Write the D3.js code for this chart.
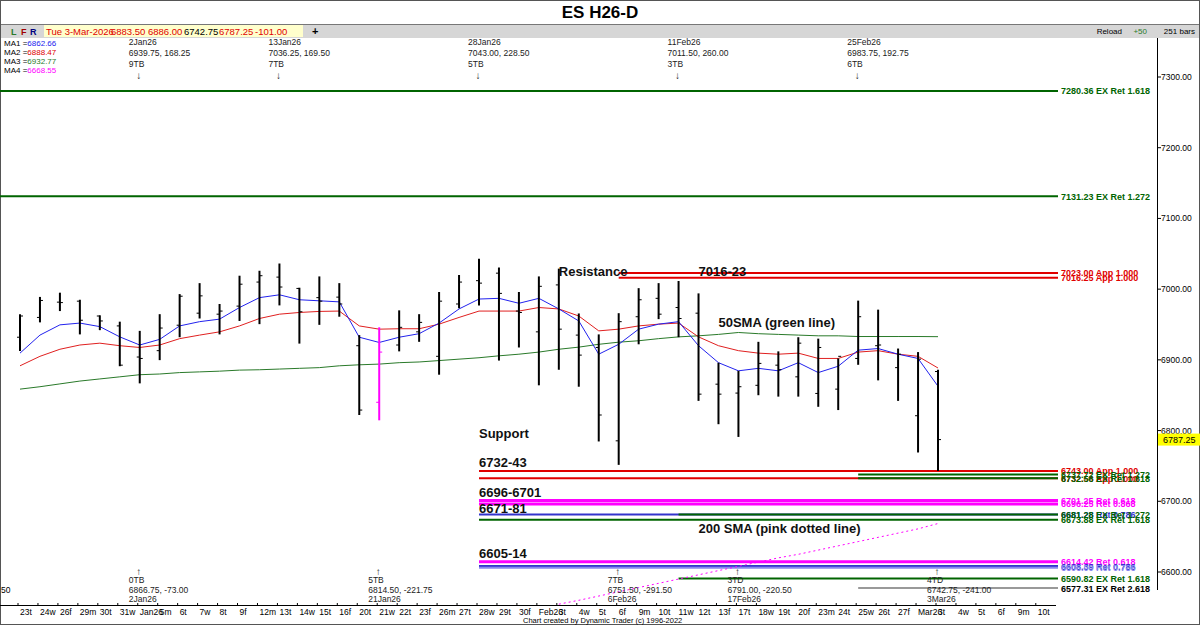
<!DOCTYPE html>
<html><head><meta charset="utf-8">
<script src="https://cdn.jsdelivr.net/npm/d3@7"></script>
<style>body{margin:0;background:#fff}svg{display:block;font-family:"Liberation Sans",Arial,sans-serif}</style>
</head><body><svg id="c" width="1200" height="625"></svg>
<script>
const dates=["23t","24w","26f","29m","30t","31w","Jan26","5m","6t","7w","8t","9f","12m","13t","14w","15t","16f","20t","21w","22t","23f","26m","27t","28w","29t","30f","Feb26","3t","4w","5t","6f","9m","10t","11w","12t","13f","17t","18w","19t","20f","23m","24t","25w","26t","27f","Mar26","3t","4w","5t","6f","9m","10t"];
const opens=[6932,6960,6981.6,6983,6962,6948,6904,6913,6949,6966,6964.6,6976,7010,7017,7001,6988,6988.7,6920,6840,6921,6939.6,6905,6979,7012,7022.6,6969,6939.6,7006,6935,6917.5,6785.5,6961,6987,6974,6966,6865.6,6853,6864,6892.5,6876,6852.5,6858.6,6902,6920,6889,6821,6883.5];
const highs=[6964.6,6989,6995,6985,6963,6954,6941,6964.6,6993,7008.5,6979,7019,7026,7036.25,7002,7018,7008.5,6935,6946,6970,6964.6,6996,7020,7043,7030.6,6996,7018,7029,6965.6,6936,6966,7001.4,7008.5,7011.5,6994,6896,6884.5,6925.5,6912,6932,6930,6902,6983.75,6971,6916,6911,6886];
const lows=[6912.7,6953,6969,6936,6942,6891,6866.75,6899.6,6932,6958.5,6936,6955,6950.5,6977,6923,6949.5,6961,6822,6814.5,6912,6925.5,6879,6973,6977,6899,6917.5,6864,6886,6862,6784.6,6751.5,6922,6957.6,6932,6842,6809,6791,6850,6848,6848,6833.6,6829,6893,6871,6842,6769,6742.75];
const closes=[6962,6984,6981,6956,6955,6892.5,6902,6945,6990,6990.5,6969,7007,7019,7003,6968,6983,6979,6829,6911,6946,6953,6983,7010,7008.5,6994,6967,7004,6943.4,6906.7,6822,6954,6985,6964.6,6958.5,6851.5,6851.5,6862,6895,6886,6923.6,6917.5,6905,6961,6921,6908,6901,6787.25];
const ma1=[6909.5,6935,6949.5,6952,6947,6932.5,6921,6929,6948,6954,6957.6,6974,6988,6992,6985,6983.5,6982,6932,6924.6,6932,6937,6952,6972,6986,6987,6980,6987,6972,6955,6908,6922,6943.4,6950.5,6954,6920,6896,6884.5,6888,6884.5,6896,6882,6891,6913.7,6916,6908,6902,6862.66];
const ma2=[6891.6,6905,6915,6921,6923.6,6920,6917.5,6921,6930,6935,6939.6,6948,6958.5,6964.6,6967,6968.5,6969,6948,6943.4,6944,6944,6950.5,6960,6969,6969,6969,6974,6972,6962,6941,6943.4,6948,6950.5,6952,6932.5,6920,6913,6909.5,6908,6909.5,6902,6902,6911,6913,6908,6905,6888.47];
const ma3=[6858.6,6862,6866,6870,6873,6876,6879,6880,6882,6883,6884,6885.5,6886,6887,6888,6889,6891.6,6893,6894,6896,6897,6899,6901,6903,6905.7,6908,6911,6915,6918,6922,6925,6927,6930,6932.5,6934,6936,6938.7,6937,6936,6935,6934,6934,6933,6933,6933,6933,6932.77];
const ma4Start=27;
const ma4=[6554.5,6560,6566,6572,6578,6584,6590,6596,6602,6608,6614,6620,6625,6631,6637,6643,6649,6655,6661,6668.55];
const pinkBar=18;
const priceTicks=[6600,6700,6800,6900,7000,7100,7200,7300];
const levelPrice=[7280.36,7131.23,7023.00,7016.25,6743.00,6737.72,6732.56,6732.56,6701.25,6696.25,6681.28,6681.28,6673.88,6614.42,6608.39,6606.00,6590.82,6577.31];
const levelText=["7280.36 EX Ret 1.618","7131.23 EX Ret 1.272","7023.00 App 1.000","7016.25 App 1.000","6743.00 App 1.000","6737.72 EX Ret 1.272","6732.56 App 1.000","6732.56 EX Ret 1.618","6701.25 Ret 0.618","6696.25 Ret 0.868","6681.28 Ret 0.786","6681.28 EX Ret 1.272","6673.88 EX Ret 1.618","6614.42 Ret 0.618","6608.39 Ret 0.786","6606.00 Ret 0.786","6590.82 EX Ret 1.618","6577.31 EX Ret 2.618"];
const levelColor=["#006400","#006400","#e00000","#e00000","#e00000","#006400","#e00000","#006400","#ff00ff","#ff00ff","#3333cc","#006400","#006400","#ff00ff","#3333cc","#8888ee","#006400","#999999"];
const levelStart=[-1,-1,30,30,23,42,23,42,23,23,23,33,23,23,23,23,33,42];
const topNotes=[[6,"2Jan26","6939.75, 168.25","9TB"],[13,"13Jan26","7036.25, 169.50","7TB"],[23,"28Jan26","7043.00, 228.50","5TB"],[33,"11Feb26","7011.50, 260.00","3TB"],[42,"25Feb26","6983.75, 192.75","6TB"]];
const botNotes=[[6,"0TB","6866.75, -73.00","2Jan26"],[18,"5TB","6814.50, -221.75","21Jan26"],[30,"7TB","6751.50, -291.50","6Feb26"],[36,"3TD","6791.00, -220.50","17Feb26"],[46,"4TD","6742.75, -241.00","3Mar26"]];
const labels=[["Resistance",27,7019],["7016-23",34,7019],["50SMA (green line)",35,6946],["Support",23,6790],["6732-43",23,6749],["6696-6701",23,6706],["6671-81",23,6684],["200 SMA (pink dotted line)",34,6655],["6605-14",23,6620]];

const svg=d3.select("#c");
const x=d3.scaleLinear().domain([0,46]).range([20,938]);
const y=d3.scaleLinear().domain([6600,7300]).range([572,77]);

svg.append("rect").attr("x",0.5).attr("y",0.5).attr("width",1199).attr("height",624).attr("fill","#fff").attr("stroke","#555");
svg.append("text").attr("x",600).attr("y",18).attr("text-anchor","middle").attr("font-size",17).attr("font-weight","bold").text("ES H26-D");
svg.append("rect").attr("x",1).attr("y",24).attr("width",1198).attr("height",14).attr("fill","#d6d6d6");
svg.append("line").attr("x1",1).attr("x2",1199).attr("y1",24.5).attr("y2",24.5).attr("stroke","#777");
svg.append("rect").attr("x",44).attr("y",25).attr("width",259).attr("height",12).attr("fill","#ffffcc");
[["L",11,"#2a7a2a"],["F",21,"#a00000"],["R",30,"#000080"]].forEach(d=>svg.append("text").attr("x",d[1]).attr("y",35).attr("font-size",9).attr("font-weight","bold").attr("fill",d[2]).text(d[0]));
[["Tue 3-Mar-2026",46,"#e00000"],["6883.50",111,"#e00000"],["6886.00",148,"#e00000"],["6742.75",184,"#000"],["6787.25",219,"#e00000"],["-101.00",255,"#e00000"]].forEach(d=>svg.append("text").attr("x",d[1]).attr("y",35).attr("font-size",9.5).attr("fill",d[2]).text(d[0]));
svg.append("text").attr("x",312).attr("y",35).attr("font-size",11).attr("font-weight","bold").text("+");
svg.append("text").attr("x",1122).attr("y",34).attr("font-size",8).attr("text-anchor","end").text("Reload");
svg.append("text").attr("x",1147).attr("y",34).attr("font-size",8).attr("text-anchor","end").attr("fill","#2a7a2a").text("+50");
svg.append("text").attr("x",1195).attr("y",34).attr("font-size",8).attr("text-anchor","end").text("251 bars");
[["MA1 =","6862.66","#2222ee"],["MA2 =","6888.47","#e00000"],["MA3 =","6932.77","#2a7a2a"],["MA4 =","6668.55","#ff00ff"]].forEach((d,i)=>{
  const t=svg.append("text").attr("x",4).attr("y",46+i*9).attr("font-size",8);
  t.append("tspan").attr("fill","#000").text(d[0]);t.append("tspan").attr("fill",d[2]).text(d[1]);});

svg.append("line").attr("x1",1157.5).attr("x2",1157.5).attr("y1",38).attr("y2",590).attr("stroke","#000");
priceTicks.forEach(p=>{svg.append("line").attr("x1",1157).attr("x2",1161).attr("y1",y(p)).attr("y2",y(p)).attr("stroke","#000");
 svg.append("text").attr("x",1161).attr("y",y(p)+3).attr("font-size",8.5).text(p.toFixed(2));});
svg.append("rect").attr("x",1158).attr("y",y(6787.25)-6).attr("width",42).attr("height",12).attr("fill","#ffff00");
svg.append("text").attr("x",1163).attr("y",y(6787.25)+3.5).attr("font-size",9).text("6787.25");

levelPrice.forEach((p,i)=>{
  const x0=levelStart[i]<0?0:x(levelStart[i]);
  const c=levelColor[i];
  svg.append("line").attr("x1",x0).attr("x2",1058).attr("y1",y(p)).attr("y2",y(p)).attr("stroke",c).attr("stroke-width",c=="#ff00ff"?3:2);
  svg.append("text").attr("x",1061).attr("y",y(p)+3.5).attr("font-size",9).attr("font-weight","bold").attr("fill",c=="#999999"?"#000":c).text(levelText[i]);
});

const line=d3.line().x((d,i)=>x(i)).y(d=>y(d));
svg.append("path").attr("d",line(ma3)).attr("fill","none").attr("stroke","#2a7a2a").attr("stroke-width",1);
svg.append("path").attr("d",line(ma2)).attr("fill","none").attr("stroke","#e02020").attr("stroke-width",1);
svg.append("path").attr("d",line(ma1)).attr("fill","none").attr("stroke","#2222ee").attr("stroke-width",1);
svg.append("path").attr("d",d3.line().x((d,i)=>x(i+ma4Start)).y(d=>y(d))(ma4)).attr("fill","none").attr("stroke","#ff00ff").attr("stroke-width",1).attr("stroke-dasharray","2,3");

const bars=svg.append("g");
highs.forEach((h,i)=>{
  const c=i===pinkBar?"#ff00ff":"#000";
  bars.append("line").attr("x1",x(i)).attr("x2",x(i)).attr("y1",y(h)).attr("y2",y(lows[i])).attr("stroke",c).attr("stroke-width",2);
  bars.append("line").attr("x1",x(i)-3).attr("x2",x(i)).attr("y1",y(opens[i])).attr("y2",y(opens[i])).attr("stroke",c).attr("stroke-width",1);
  bars.append("line").attr("x1",x(i)).attr("x2",x(i)+3).attr("y1",y(closes[i])).attr("y2",y(closes[i])).attr("stroke",c).attr("stroke-width",1);
});

labels.forEach(d=>svg.append("text").attr("x",x(d[1])).attr("y",y(d[2])).attr("font-size",13).attr("font-weight","bold").attr("fill","#111").text(d[0]));

topNotes.forEach(d=>{const g=svg.append("g").attr("font-size",8.5).attr("fill","#222");
  g.append("text").attr("x",x(d[0])-11).attr("y",45).text(d[1]);
  g.append("text").attr("x",x(d[0])-11).attr("y",56).text(d[2]);
  g.append("text").attr("x",x(d[0])-11).attr("y",67).text(d[3]);
  g.append("text").attr("x",x(d[0])-1).attr("y",79).attr("text-anchor","middle").attr("font-size",10).text("↓");});
botNotes.forEach(d=>{const g=svg.append("g").attr("font-size",8.5).attr("fill","#222");
  g.append("text").attr("x",x(d[0])-1).attr("y",575).attr("text-anchor","middle").attr("font-size",10).text("↑");
  g.append("text").attr("x",x(d[0])-11).attr("y",583).text(d[1]);
  g.append("text").attr("x",x(d[0])-11).attr("y",593).text(d[2]);
  g.append("text").attr("x",x(d[0])-11).attr("y",602).text(d[3]);});

svg.append("line").attr("x1",0).attr("x2",1056).attr("y1",605.5).attr("y2",605.5).attr("stroke","#000");
svg.append("text").attr("x",1).attr("y",593).attr("font-size",8.5).text("50");
dates.forEach((d,i)=>{svg.append("line").attr("x1",x(i)-2).attr("x2",x(i)-2).attr("y1",603).attr("y2",606).attr("stroke","#000");
  svg.append("text").attr("x",x(i)).attr("y",615).attr("font-size",8.5).text(d);});
svg.append("text").attr("x",523).attr("y",623).attr("font-size",7.5).text("Chart created by Dynamic Trader  (c) 1996-2022");
</script></body></html>
